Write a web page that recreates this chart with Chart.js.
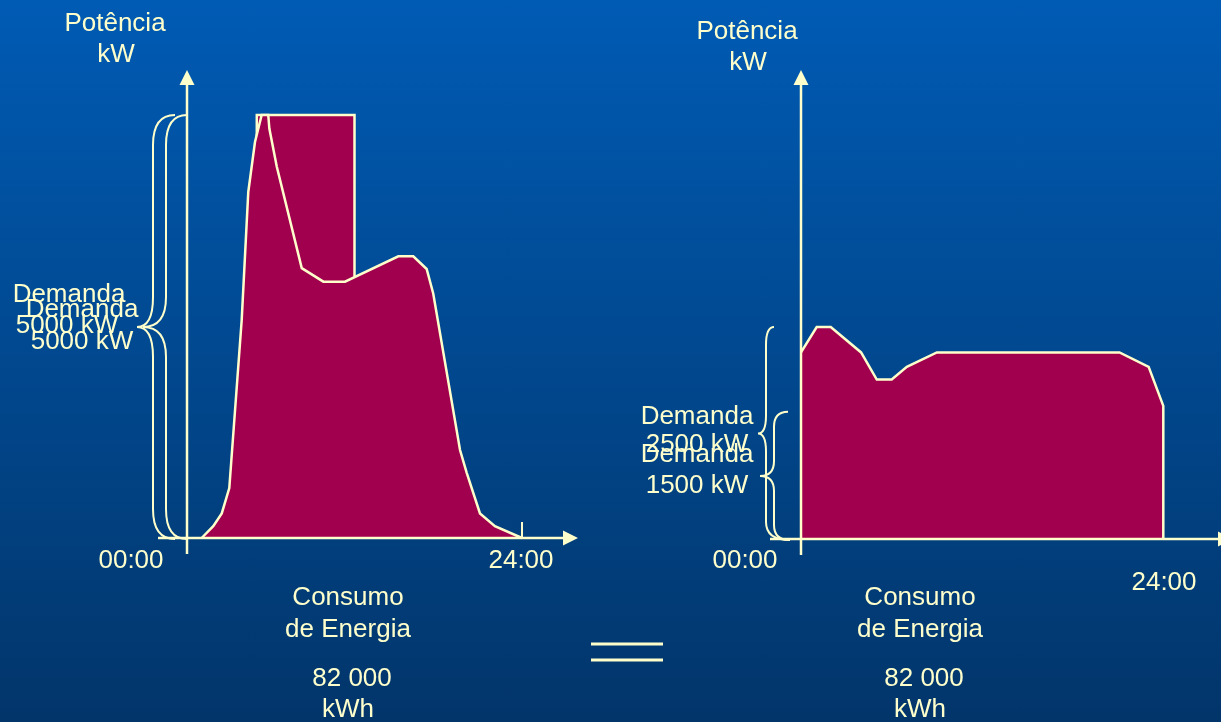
<!DOCTYPE html>
<html>
<head>
<meta charset="utf-8">
<script src="https://cdn.jsdelivr.net/npm/chart.js@4.4.0/dist/chart.umd.min.js"></script>
<style>
  html, body { margin: 0; padding: 0; }
  body {
    width: 1221px; height: 722px; overflow: hidden; position: relative;
    background: linear-gradient(to bottom, #005bb4 0%, #02356a 100%);
    font-family: "Liberation Sans", Arial, sans-serif;
  }
  canvas { position: absolute; left: 0; top: 0; }
  .t {
    position: absolute; color: #ffffcc; font-size: 26px; line-height: 26px;
    white-space: nowrap; transform: translateX(-50%);
  }
</style>
</head>
<body>
<canvas id="left-chart" width="1221" height="722"></canvas>
<canvas id="right-chart" width="1221" height="722"></canvas>

<!-- left chart texts -->
<div class="t" style="left:115px;top:9px">Potência</div>
<div class="t" style="left:116px;top:40px">kW</div>
<div class="t" style="left:69px;top:280px">Demanda</div>
<div class="t" style="left:67px;top:311px">5000 kW</div>
<div class="t" style="left:82px;top:295px">Demanda</div>
<div class="t" style="left:82px;top:327px">5000 kW</div>
<div class="t" style="left:131px;top:546px">00:00</div>
<div class="t" style="left:521px;top:546px">24:00</div>
<div class="t" style="left:348px;top:583px">Consumo</div>
<div class="t" style="left:348px;top:615px">de Energia</div>
<div class="t" style="left:352px;top:664px">82 000</div>
<div class="t" style="left:348px;top:695px">kWh</div>

<!-- right chart texts -->
<div class="t" style="left:747px;top:17px">Potência</div>
<div class="t" style="left:748px;top:48px">kW</div>
<div class="t" style="left:697px;top:402px">Demanda</div>
<div class="t" style="left:697px;top:430px">2500 kW</div>
<div class="t" style="left:697px;top:440px">Demanda</div>
<div class="t" style="left:697px;top:471px">1500 kW</div>
<div class="t" style="left:745px;top:546px">00:00</div>
<div class="t" style="left:1164px;top:568px">24:00</div>
<div class="t" style="left:920px;top:583px">Consumo</div>
<div class="t" style="left:920px;top:615px">de Energia</div>
<div class="t" style="left:924px;top:664px">82 000</div>
<div class="t" style="left:920px;top:695px">kWh</div>

<script>
// Left: peaky load profile (hours, kW)
const leftHours = [1.05, 1.88, 2.49, 3.03, 3.92, 4.39, 4.87, 5.35, 5.82, 5.9, 6.43, 8.22, 9.77, 11.32, 15.14, 16.21, 17.17, 17.64, 19.56, 20.04, 20.99, 22.06, 24];
const leftKw    = [0, 140, 290, 590, 2580, 4090, 4680, 5000, 5000, 4840, 4390, 3190, 3030, 3030, 3330, 3330, 3180, 2890, 1040, 770, 290, 140, 0];

// Left: demand block drawn behind the curve
const blockHours = [5, 5, 12, 12];
const blockKw    = [0, 5000, 5000, 0];

// Right: flattened load profile
const rightHours = [0, 1.04, 1.97, 3.98, 5.02, 6.01, 7.01, 9.0, 21.1, 23.03, 24, 24];
const rightKw    = [2200, 2500, 2500, 2200, 1880, 1880, 2030, 2200, 2200, 2030, 1570, 0];

// Demand braces
const leftDemands  = [5000, 5000];
const rightDemands = [2500, 1500];

const cream = '#ffffcc';
const maroon = '#a0004e';

function toPoints(xs, ys) {
  return xs.map((h, i) => ({ x: h, y: ys[i] }));
}

function seg(ctx, x1, y1, x2, y2) {
  ctx.beginPath();
  ctx.moveTo(x1, y1);
  ctx.lineTo(x2, y2);
  ctx.stroke();
}

function drawBrace(ctx, b, top, bot) {
  const mid = (top + bot) / 2;
  ctx.beginPath();
  ctx.moveTo(b.endTop, top);
  ctx.quadraticCurveTo(b.spine, top, b.spine, top + b.r);
  ctx.lineTo(b.spine, mid - b.r);
  ctx.quadraticCurveTo(b.spine, mid, b.tip, mid);
  ctx.quadraticCurveTo(b.spine, mid, b.spine, mid + b.r);
  ctx.lineTo(b.spine, bot - b.r);
  ctx.quadraticCurveTo(b.spine, bot, b.endBot, bot);
  ctx.stroke();
}

// axes with arrows, braces, end tick, equals sign
const decorPlugin = {
  id: 'decor',
  afterDatasetsDraw(chart, args, opts) {
    const ctx = chart.ctx;
    const x = chart.scales.x, y = chart.scales.y;
    const x0 = x.getPixelForValue(0);
    const y0 = y.getPixelForValue(0);
    ctx.save();
    ctx.strokeStyle = cream;
    ctx.fillStyle = cream;
    ctx.lineCap = 'butt';

    // braces
    ctx.lineWidth = 2;
    opts.braces.forEach(b => {
      drawBrace(ctx, b, y.getPixelForValue(b.value), y0 + 1);
    });

    // y axis
    ctx.lineWidth = 2.5;
    seg(ctx, x0, opts.yAxisBottom, x0, opts.yArrowTip + 12);
    ctx.beginPath();
    ctx.moveTo(x0, opts.yArrowTip);
    ctx.lineTo(x0 - 7.5, opts.yArrowTip + 15);
    ctx.lineTo(x0 + 7.5, opts.yArrowTip + 15);
    ctx.closePath();
    ctx.fill();

    // x axis
    seg(ctx, opts.xAxisStart, y0, opts.xArrowTip - 12, y0);
    ctx.beginPath();
    ctx.moveTo(opts.xArrowTip, y0);
    ctx.lineTo(opts.xArrowTip - 15, y0 - 7.5);
    ctx.lineTo(opts.xArrowTip - 15, y0 + 7.5);
    ctx.closePath();
    ctx.fill();

    if (opts.endTick) {
      const xe = x.getPixelForValue(24);
      ctx.lineWidth = 2;
      seg(ctx, xe, y0 - 16, xe, y0);
    }

    if (opts.equals) {
      ctx.lineWidth = 3;
      seg(ctx, 591, 644, 663, 644);
      seg(ctx, 591, 660, 663, 660);
    }
    ctx.restore();
  }
};

function makeChart(id, datasets, yMax, padding, decor) {
  return new Chart(document.getElementById(id).getContext('2d'), {
    type: 'line',
    data: { datasets: datasets },
    options: {
      responsive: false,
      animation: false,
      layout: { padding: padding },
      elements: { point: { radius: 0 }, line: { tension: 0 } },
      scales: {
        x: { type: 'linear', min: 0, max: 24, display: false },
        y: { min: 0, max: yMax, display: false }
      },
      plugins: {
        legend: { display: false },
        tooltip: { enabled: false },
        decor: decor
      }
    },
    plugins: [decorPlugin]
  });
}

const areaStyle = {
  fill: 'origin',
  backgroundColor: maroon,
  borderColor: cream,
  borderWidth: 2.5,
  clip: false
};

makeChart('left-chart', [
  Object.assign({ label: 'Carga', data: toPoints(leftHours, leftKw) }, areaStyle),
  Object.assign({ label: 'Demanda', data: toPoints(blockHours, blockKw) }, areaStyle)
], 5000, { left: 187, right: 699, top: 115, bottom: 184 }, {
  yAxisBottom: 554, yArrowTip: 70,
  xAxisStart: 158, xArrowTip: 578,
  endTick: true, equals: true,
  braces: [
    { value: leftDemands[0], spine: 153, tip: 137, endTop: 175, endBot: 175, r: 30 },
    { value: leftDemands[1], spine: 166, tip: 143, endTop: 187, endBot: 187, r: 30 }
  ]
});

makeChart('right-chart', [
  Object.assign({ label: 'Carga', data: toPoints(rightHours, rightKw) }, areaStyle)
], 2500, { left: 801, right: 57.7, top: 327, bottom: 183 }, {
  yAxisBottom: 555, yArrowTip: 70,
  xAxisStart: 770, xArrowTip: 1233,
  endTick: false, equals: false,
  braces: [
    { value: rightDemands[0], spine: 766, tip: 758, endTop: 774, endBot: 790, r: 18 },
    { value: rightDemands[1], spine: 774, tip: 760, endTop: 788, endBot: 790, r: 15 }
  ]
});
</script>
</body>
</html>
